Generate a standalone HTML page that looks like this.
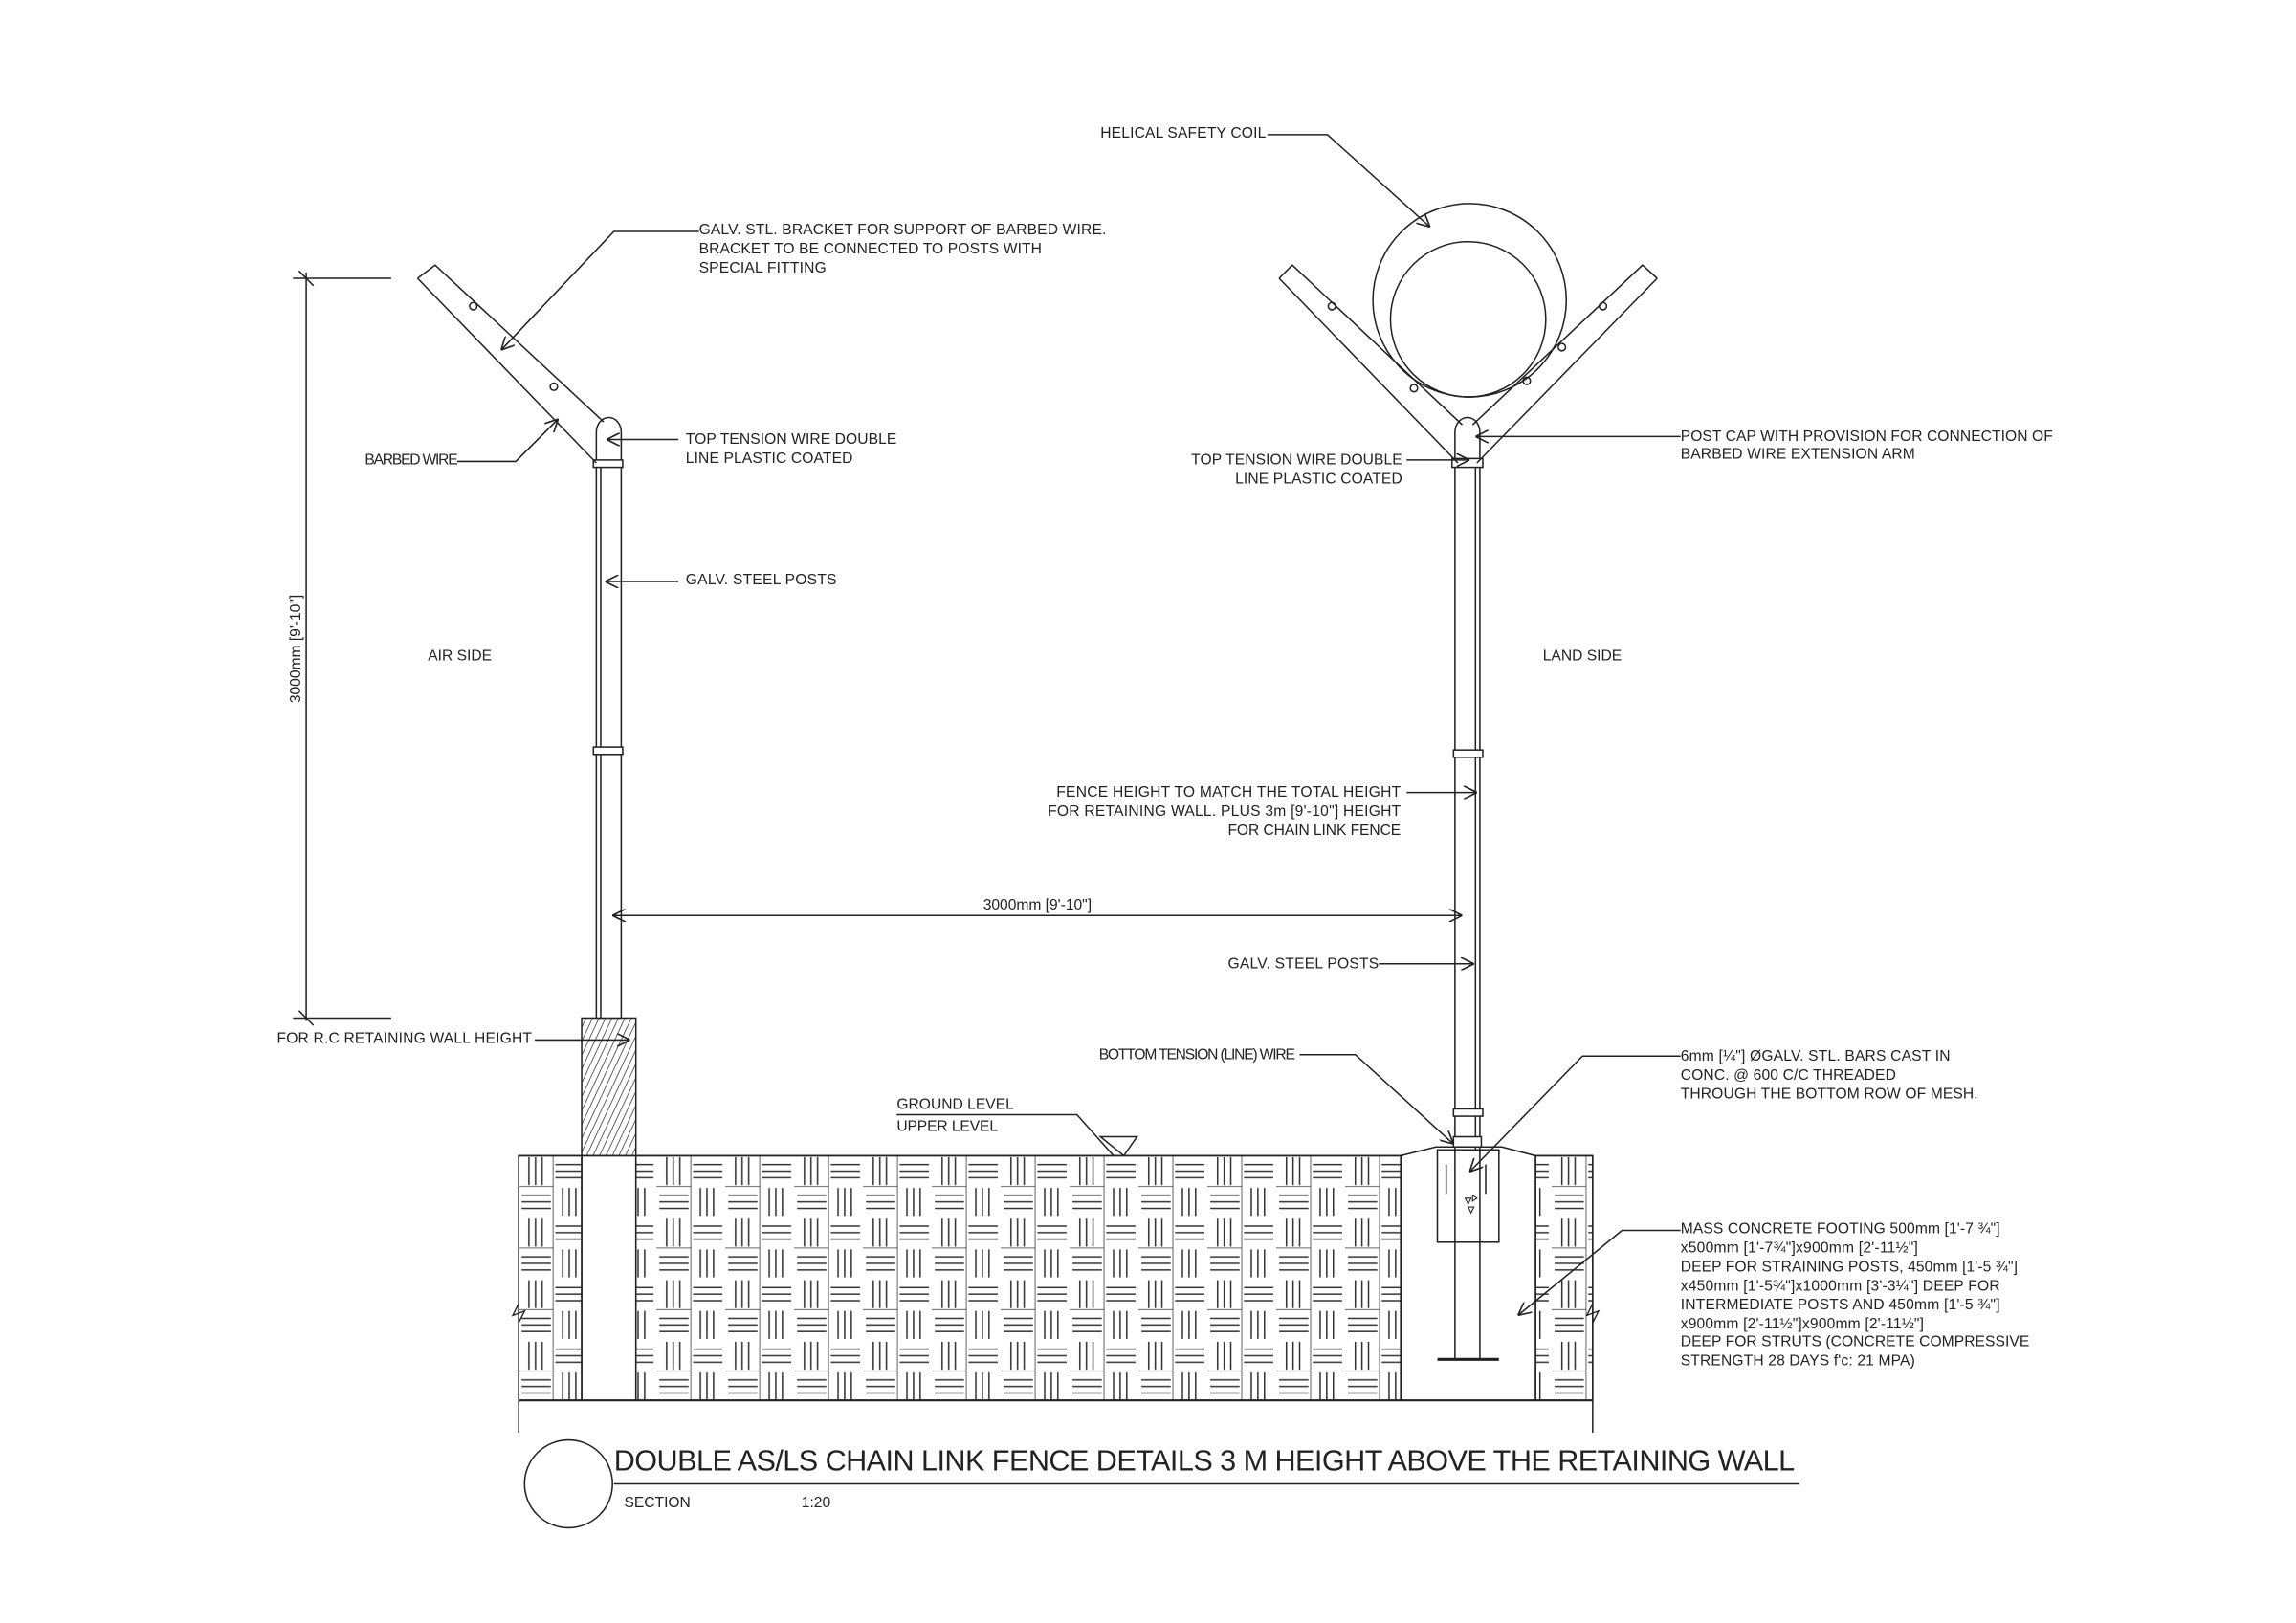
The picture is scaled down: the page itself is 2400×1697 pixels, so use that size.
<!DOCTYPE html>
<html><head><meta charset="utf-8"><style>
html,body{margin:0;padding:0;background:#fff;}
svg{display:block;}
text{font-family:"Liberation Sans",sans-serif;font-size:10.2px;fill:#222;}
</style></head><body>
<svg width="2400" height="1697" viewBox="0 0 1567 1108" preserveAspectRatio="none" xmlns="http://www.w3.org/2000/svg">
<defs>
<pattern id="bw" patternUnits="userSpaceOnUse" x="354" y="789" width="47" height="42">
<g stroke="#333" stroke-width="1" fill="none">
<path d="M7 1V20M11.5 1V20M16 1V20"/>
<path d="M25 6H45M25 10.5H45M25 15H45"/>
<path d="M2 27H22M2 31.5H22M2 36H22"/>
<path d="M30 22V41M34.5 22V41M39 22V41"/>
<path d="M0 21H23.5M23.5 0V42" stroke-width="0.5"/>
</g>
</pattern>
<pattern id="hatch" patternUnits="userSpaceOnUse" width="4" height="4" patternTransform="rotate(25)">
<line x1="0" y1="0" x2="0" y2="4" stroke="#333" stroke-width="1"/>
</pattern>
<marker id="ar" viewBox="0 0 10 10" refX="10" refY="5" markerWidth="9" markerHeight="9" orient="auto" markerUnits="userSpaceOnUse">
<path d="M0 0L10 5L0 10" fill="none" stroke="#222" stroke-width="1.2"/>
</marker>
</defs>
<g stroke="#222" stroke-width="1" fill="none">
<rect x="354" y="789" width="43" height="167" fill="url(#bw)"/>
<rect x="434" y="789" width="522" height="167" fill="url(#bw)"/>
<rect x="1048" y="789" width="39" height="167" fill="url(#bw)"/>
<line x1="354" y1="789" x2="956" y2="789"/>
<path d="M956 789L980 783H1025L1048 789H1087"/>
<line x1="354" y1="956" x2="1087" y2="956" stroke-width="1.4"/>
<line x1="354" y1="789" x2="354" y2="978"/>
<line x1="1087" y1="789" x2="1087" y2="978"/>
<line x1="397" y1="789" x2="397" y2="956"/>
<line x1="434" y1="789" x2="434" y2="956"/>
<line x1="956" y1="789" x2="956" y2="956"/>
<line x1="1048" y1="789" x2="1048" y2="956"/>
<path d="M354 890l-4 8 8 -3 -4 8" stroke-width="0.9"/>
<path d="M1087 890l-4 8 8 -3 -4 8" stroke-width="0.9"/>
<rect x="397" y="695" width="37" height="94" fill="url(#hatch)"/>
<rect x="407" y="318" width="17" height="377" fill="#fff"/>
<line x1="410" y1="318" x2="410" y2="695"/>
<path d="M407 318V295A8.5 10 0 0 1 424 295V318" fill="#fff"/>
<rect x="405" y="314" width="20" height="5" fill="#fff"/>
<rect x="405" y="510" width="20" height="5" fill="#fff"/>
<path d="M285 190L297 181L412 288M285 190L407 316"/>
<circle cx="323" cy="209" r="2.5"/><circle cx="378" cy="264" r="2.5"/>
<line x1="209" y1="186" x2="209" y2="697"/>
<line x1="200" y1="190" x2="267" y2="190"/>
<line x1="200" y1="695" x2="267" y2="695"/>
<line x1="204" y1="185" x2="214" y2="195"/><line x1="204" y1="690" x2="214" y2="700"/>
<rect x="993" y="318" width="17" height="467" fill="#fff"/>
<line x1="1007" y1="318" x2="1007" y2="785"/>
<rect x="981" y="785" width="42" height="63"/>
<line x1="993" y1="785" x2="993" y2="928"/><line x1="1010" y1="785" x2="1010" y2="928"/>
<line x1="981" y1="928" x2="1023" y2="928" stroke-width="2"/>
<line x1="987" y1="795" x2="987" y2="815"/><line x1="1014" y1="795" x2="1014" y2="815"/>
<path d="M1000 818l2 4 2-4zM1005 816l3 2-3 2zM1002 824l2 4 2-4z" stroke-width="0.7"/>
<path d="M993 318V295A8.5 10 0 0 1 1010 295V318" fill="#fff"/>
<rect x="991" y="313" width="21" height="6" fill="#fff"/>
<rect x="992" y="512" width="20" height="5" fill="#fff"/>
<rect x="992" y="757" width="20" height="5" fill="#fff"/>
<rect x="992" y="776" width="19" height="7" fill="#fff"/>
<path d="M873 190L882 181L998 290M873 190L995 316"/>
<path d="M1131 190L1121 181L1005 290M1131 190L1008 316"/>
<circle cx="909" cy="209" r="2.5"/><circle cx="965" cy="265" r="2.5"/>
<circle cx="1094" cy="209" r="2.5"/><circle cx="1066" cy="237" r="2.5"/><circle cx="1042" cy="260" r="2.5"/>
<circle cx="1003" cy="205" r="66"/>
<circle cx="1002" cy="218" r="53"/>
<line x1="418" y1="625" x2="998" y2="625" marker-end="url(#ar)"/>
<line x1="998" y1="625" x2="418" y2="625" marker-end="url(#ar)"/>
<path d="M612 761H735L760 789"/>
<path d="M751 776H776L767 789Z"/>
<circle cx="388" cy="1013" r="30"/>
<line x1="419" y1="1013" x2="1228" y2="1013"/>
<path d="M865 92H906L976 155" marker-end="url(#ar)"/>
<path d="M477 158H419L342 239" marker-end="url(#ar)"/>
<path d="M312 315H352L381 286" marker-end="url(#ar)"/>
<path d="M463 300H414" marker-end="url(#ar)"/>
<path d="M463 397H413" marker-end="url(#ar)"/>
<path d="M960 314H1003" marker-end="url(#ar)"/>
<path d="M1147 298H1007" marker-end="url(#ar)"/>
<path d="M960 541H1008" marker-end="url(#ar)"/>
<path d="M941 658H1006" marker-end="url(#ar)"/>
<path d="M887 720H925L992 781" marker-end="url(#ar)"/>
<path d="M1147 721H1080L1003 800" marker-end="url(#ar)"/>
<path d="M365 710H430" marker-end="url(#ar)"/>
<path d="M1147 840H1107L1036 898" marker-end="url(#ar)"/>
</g>
<g>
<text x="751" y="94" textLength="113">HELICAL SAFETY COIL</text>
<text x="477" y="160" textLength="278">GALV. STL. BRACKET FOR SUPPORT OF BARBED WIRE.</text>
<text x="477" y="173" textLength="234">BRACKET TO BE CONNECTED TO POSTS WITH</text>
<text x="477" y="186" textLength="87">SPECIAL FITTING</text>
<text x="249" y="317" textLength="63" style="letter-spacing:-0.5px">BARBED WIRE</text>
<text x="468" y="303" textLength="144">TOP TENSION WIRE DOUBLE</text>
<text x="468" y="316" textLength="114">LINE PLASTIC COATED</text>
<text x="468" y="399" textLength="103">GALV. STEEL POSTS</text>
<text x="292" y="451">AIR SIDE</text>
<text x="1053" y="451">LAND SIDE</text>
<text x="813" y="317" textLength="144">TOP TENSION WIRE DOUBLE</text>
<text x="843" y="330" textLength="114">LINE PLASTIC COATED</text>
<text x="1147" y="301" textLength="254">POST CAP WITH PROVISION FOR CONNECTION OF</text>
<text x="1147" y="313" textLength="160">BARBED WIRE EXTENSION ARM</text>
<text x="721" y="544" textLength="235">FENCE HEIGHT TO MATCH THE TOTAL HEIGHT</text>
<text x="715" y="557" textLength="241">FOR RETAINING  WALL. PLUS 3m [9'-10"] HEIGHT</text>
<text x="838" y="570" textLength="118">FOR CHAIN LINK FENCE</text>
<text x="838" y="661" textLength="103">GALV. STEEL POSTS</text>
<text x="671" y="621" textLength="74">3000mm [9'-10"]</text>
<text x="750" y="723" textLength="134">BOTTOM TENSION (LINE) WIRE</text>
<text x="1147" y="724" textLength="184">6mm [¼"] ØGALV. STL. BARS CAST IN</text>
<text x="1147" y="737" textLength="147">CONC. @ 600 C/C THREADED</text>
<text x="1147" y="750" textLength="203">THROUGH THE BOTTOM ROW OF MESH.</text>
<text x="189" y="712" textLength="174">FOR R.C RETAINING WALL HEIGHT</text>
<text x="612" y="757" textLength="80">GROUND LEVEL</text>
<text x="612" y="772" textLength="69">UPPER LEVEL</text>
<text x="1147" y="842" textLength="218">MASS CONCRETE FOOTING 500mm [1'-7 ¾"]</text>
<text x="1147" y="855" textLength="162">x500mm [1'-7¾"]x900mm [2'-11½"]</text>
<text x="1147" y="868" textLength="230">DEEP FOR STRAINING POSTS, 450mm [1'-5 ¾"]</text>
<text x="1147" y="881" textLength="218">x450mm [1'-5¾"]x1000mm [3'-3¼"] DEEP FOR</text>
<text x="1147" y="894" textLength="218">INTERMEDIATE POSTS AND 450mm [1'-5 ¾"]</text>
<text x="1147" y="907" textLength="166">x900mm [2'-11½"]x900mm [2'-11½"]</text>
<text x="1147" y="919" textLength="238">DEEP FOR STRUTS (CONCRETE COMPRESSIVE</text>
<text x="1147" y="932" textLength="160">STRENGTH 28 DAYS f'c: 21 MPA)</text>
<text transform="translate(205,443) rotate(-90)" text-anchor="middle" textLength="74">3000mm [9'-10"]</text>
<text x="419" y="1004" textLength="806" style="font-size:20px">DOUBLE AS/LS CHAIN LINK FENCE DETAILS 3 M HEIGHT ABOVE THE RETAINING WALL</text>
<text x="426" y="1029">SECTION</text>
<text x="547" y="1029">1:20</text>
</g>
</svg>
</body></html>
